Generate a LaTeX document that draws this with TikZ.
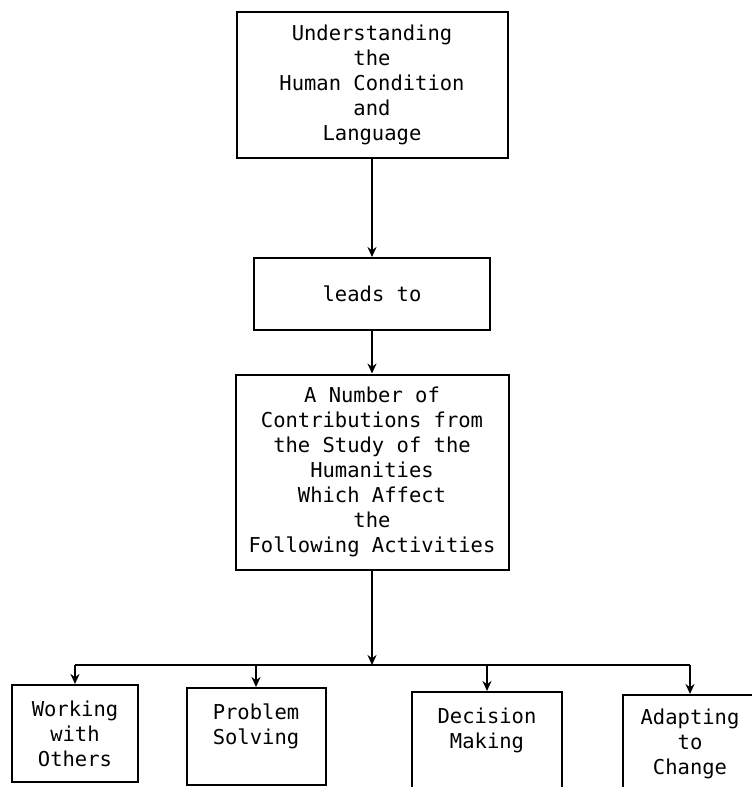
\documentclass[tikz,border=0pt]{standalone}
\usepackage{fontspec}
\setmainfont{DejaVu Sans Mono}
\usepackage{tikz}
\usetikzlibrary{positioning, arrows, arrows.meta}

\tikzset{
  blk/.style={draw, line width=2pt, align=center, inner sep=0pt,
    font=\fontsize{20.5}{25}\selectfont},
  arr/.style={line width=2pt, -{Stealth[length=10pt,width=9pt]}}
}

\begin{document}
\begin{tikzpicture}[x=1pt, y=-1pt]
\useasboundingbox (0,0) rectangle (752,787);

\node[blk, minimum width=271pt, minimum height=146pt] (under) at (372,85)
  {Understanding\\the\\Human Condition\\and\\Language};
\node[blk, minimum width=236pt, minimum height=72pt] (leads) at (372,294)
  {leads to};
\node[blk, minimum width=273pt, minimum height=195pt] (contrib) at (372,472)
  {A Number of\\Contributions from\\the Study of the\\Humanities\\Which Affect\\the\\Following Activities};

\node[blk, minimum width=126pt, minimum height=97pt] (work) at (75,733.5)
  {Working\\with\\Others};
\node[blk, minimum width=139pt, minimum height=97pt] (prob) at (256,736.5)
  {Problem\\Solving\\~};
\node[blk, minimum width=150pt, minimum height=97pt] (deci) at (487,740.5)
  {Decision\\Making\\~};
\node[blk, minimum width=134pt, minimum height=97pt] (adap) at (690,743.5)
  {Adapting\\to\\Change};

\coordinate (bus) at (372,665);

\draw[arr] (under) -- (leads);
\draw[arr] (leads) -- (contrib);
\draw[arr] (contrib.south) -- (bus);
\draw[line width=2pt] (work.north |- bus) -- (adap.north |- bus);
\foreach \n in {work,prob,deci,adap}
  \draw[arr] (\n.north |- bus) -- (\n.north);
\end{tikzpicture}
\end{document}
